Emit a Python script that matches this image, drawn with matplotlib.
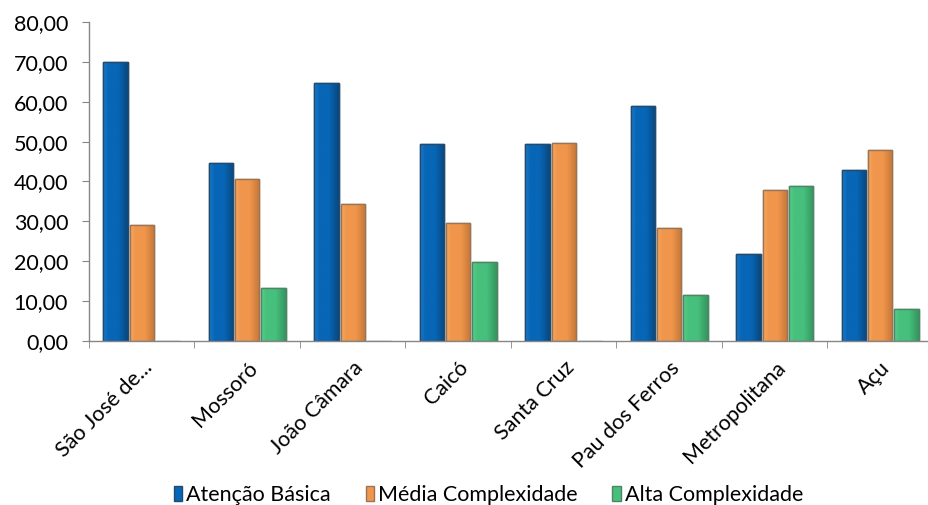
import matplotlib.pyplot as plt
from matplotlib.ticker import FuncFormatter, FixedLocator
from matplotlib.colors import LinearSegmentedColormap
import numpy as np

regions = ['São José de...', 'Mossoró', 'João Câmara', 'Caicó', 'Santa Cruz',
           'Pau dos Ferros', 'Metropolitana', 'Açu']
atencao_basica = [70.0, 44.7, 64.8, 49.4, 49.3, 58.9, 21.7, 43.0]
media_complexidade = [29.2, 40.7, 34.4, 29.6, 49.6, 28.3, 37.8, 47.8]
alta_complexidade = [0.0, 13.4, 0.0, 19.7, 0.0, 11.5, 38.8, 8.0]

# name, values, (light, face, dark) shades, outline
series = [
    ('Atenção Básica', atencao_basica, ('#1a7ccc', '#0866b6', '#07487f'), '#244a6e'),
    ('Média Complexidade', media_complexidade, ('#f6a860', '#f0964c', '#c47638'), '#9a7456'),
    ('Alta Complexidade', alta_complexidade, ('#5ad08c', '#46c07c', '#35955f'), '#4f8466'),
]

plt.rcParams['font.family'] = ['Lato', 'DejaVu Sans']

fig = plt.figure(figsize=(9.29, 5.05), dpi=100)
ax = fig.add_axes([0.0958, 0.3248, 0.9042, 0.6316])

x = np.arange(len(regions))
width = 0.25
ramp = np.linspace(0, 1, 64).reshape(1, -1)
for i, (name, vals, shades, edge) in enumerate(series):
    bars = ax.bar(x + (i - 1) * width, vals, width * 0.92, color=shades[1],
                  edgecolor=edge, linewidth=1.0, label=name, zorder=2)
    cmap = LinearSegmentedColormap.from_list(name, [(0, shades[0]), (0.2, shades[1]),
                                                    (0.6, shades[1]), (1, shades[2])])
    # shaded fill inside every bar, clipped to its rectangle
    for b in bars:
        if b.get_height() <= 0:
            continue
        x0, w, h = b.get_x(), b.get_width(), b.get_height()
        im = ax.imshow(ramp, cmap=cmap, extent=[x0, x0 + w, 0, h],
                       aspect='auto', zorder=2.5, interpolation='bilinear')
        im.set_clip_path(b)
        ax.bar(x0 + w / 2, h, w, fill=False, edgecolor=edge, linewidth=1.0, zorder=3)

ax.set_ylim(0, 80)
ax.set_yticks(np.arange(0, 81, 10))
ax.yaxis.set_major_formatter(FuncFormatter(lambda v, p: f'{v:.2f}'.replace('.', ',')))
ax.set_xlim(-0.5, -0.5 + 840 / 105.5)

ax.set_xticks(x)
ax.set_xticklabels(regions, rotation=45, ha='right', rotation_mode='anchor')
ax.xaxis.set_minor_locator(FixedLocator(np.arange(-0.5, len(regions), 1.0)))
ax.tick_params(axis='x', which='major', length=0, pad=12, labelsize=15.5)
ax.tick_params(axis='x', which='minor', length=5, color='#868686', direction='out')
ax.tick_params(axis='y', length=5, color='#868686', labelsize=15.5, pad=10)

for side in ('top', 'right'):
    ax.spines[side].set_visible(False)
for side in ('left', 'bottom'):
    ax.spines[side].set_color('#868686')
    ax.spines[side].set_linewidth(1.0)
    ax.spines[side].set_zorder(4)

fig.legend(loc='lower center', bbox_to_anchor=(0.526, -0.038), ncol=3, frameon=False,
           fontsize=15.5, handlelength=0.4, handleheight=0.7, handletextpad=0.2,
           columnspacing=1.6)

fig.savefig('out.png', dpi=100)
